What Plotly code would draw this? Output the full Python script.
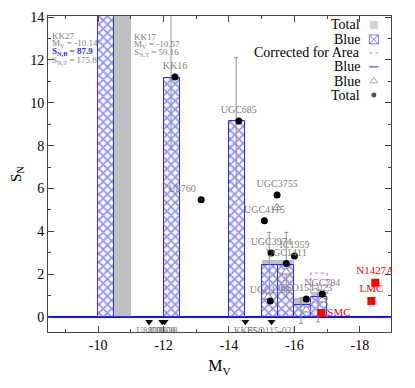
import plotly.graph_objects as go

# ---------------- data ----------------
bin_left = [-10.0, -10.5, -12.0, -14.0, -15.0, -15.5, -16.0, -16.5]
total_sn = [175.8, 59.16, 11.2, 9.15, 2.65, 2.65, 0.89, 1.17]
blue_sn = [87.9, 0.0, 11.15, 9.15, 2.43, 2.43, 0.56, 0.93]
area_bin = [-16.5]
area_sn = [2.05]
bin_width = 0.5

gal_names = ["KK16", "UGC685", "U8760", "UGC3755", "UGC4115", "UGC3974",
             "IC1959", "UGC1411", "UGC1281", "ESO154-023", "NGC784"]
gal_mv = [-12.35, -14.3, -13.15, -15.47, -15.08, -15.29, -16.0, -15.75, -15.26, -16.36, -16.85]
gal_sn = [11.2, 9.15, 5.47, 5.7, 4.49, 2.99, 2.85, 2.5, 0.75, 0.84, 1.07]
gal_textpos = ["top center", "top center", "top left", "top center", "top center", "top center",
               "top center", "top center", "top center", "top center", "top center"]

blue_mv = [-15.47, -15.75, -15.2, -16.36, -16.85]
blue_pt_sn = [5.1, 2.1, 0.93, 0.33, 0.8]

err_mv = [-12.23, -14.22, -15.23, -15.75, -16.2, -16.72]
err_lo = [7.8, 6.1, 1.0, 0.93, -0.3, -0.23]
err_hi = [16.0, 12.1, 3.95, 3.95, 0.9, 1.26]

lim_names = ["U8833", "U8508", "U8638", "KK65", "ESO115-021"]
lim_mv = [-11.56, -11.96, -12.03, -14.5, -15.3]
lim_sn = [-0.22, -0.22, -0.22, -0.22, -0.22]

ref_names = ["SMC", "LMC", "N1427A"]
ref_mv = [-16.82, -18.35, -18.47]
ref_sn = [0.19, 0.75, 1.6]
ref_textpos = ["middle right", "top center", "top center"]

x_ticks = [-10, -12, -14, -16, -18]
y_ticks = [0, 2, 4, 6, 8, 10, 12, 14]

SERIF = "Liberation Serif, Times New Roman, serif"
GRAY_TXT = "#808080"

fig = go.Figure()

centers = [b - bin_width / 2 for b in bin_left]

# Total bars (gray)
fig.add_trace(go.Bar(x=centers, y=total_sn, width=bin_width,
                     marker=dict(color="#c0c0c0", line=dict(width=0)),
                     showlegend=False, hoverinfo="skip"))
# Blue bars (hatched)
fig.add_trace(go.Bar(x=centers, y=blue_sn, width=bin_width,
                     marker=dict(color="white", line=dict(color="#2a2aff", width=1),
                                 pattern=dict(shape="x", fgcolor="#2020ff", bgcolor="white",
                                              size=6, solidity=0.5)),
                     showlegend=False, hoverinfo="skip"))

# Corrected for area outline (dotted)
for b, v in zip(area_bin, area_sn):
    fig.add_trace(go.Scatter(x=[b, b, b - bin_width, b - bin_width], y=[0, v, v, 0],
                             mode="lines", line=dict(color="#cc66cc", width=1, dash="dot"),
                             showlegend=False, hoverinfo="skip"))

# Error bars
mid = [(a + b) / 2 for a, b in zip(err_lo, err_hi)]
half = [(b - a) / 2 for a, b in zip(err_lo, err_hi)]
fig.add_trace(go.Scatter(x=err_mv, y=mid, mode="markers",
                         marker=dict(size=1, color="rgba(0,0,0,0)"),
                         error_y=dict(type="data", array=half, symmetric=True,
                                      color="#909090", thickness=1, width=2),
                         showlegend=False, hoverinfo="skip"))

# Blue triangles
fig.add_trace(go.Scatter(x=blue_mv, y=blue_pt_sn, mode="markers",
                         marker=dict(symbol="triangle-up", size=8, color="white",
                                     line=dict(color="#808080", width=1)),
                         showlegend=False, hoverinfo="skip"))

# Total points
fig.add_trace(go.Scatter(x=gal_mv, y=gal_sn, mode="markers+text", text=gal_names,
                         textposition=gal_textpos,
                         textfont=dict(family=SERIF, size=10, color=GRAY_TXT),
                         marker=dict(symbol="circle", size=7, color="black"),
                         showlegend=False, hoverinfo="skip"))

# Upper limits
fig.add_trace(go.Scatter(x=lim_mv, y=lim_sn, mode="markers+text", text=lim_names,
                         textposition="bottom center",
                         textfont=dict(family=SERIF, size=9.5, color=GRAY_TXT),
                         marker=dict(symbol="triangle-down", size=7, color="black"),
                         showlegend=False, hoverinfo="skip"))

# Reference galaxies
fig.add_trace(go.Scatter(x=ref_mv, y=ref_sn, mode="markers+text", text=ref_names,
                         textposition=ref_textpos,
                         textfont=dict(family=SERIF, size=11, color="red"),
                         marker=dict(symbol="square", size=8, color="red"),
                         showlegend=False, hoverinfo="skip"))

# ---- manual legend (symbols on right) ----
leg_labels = ["Total", "Blue", "Corrected for Area", "Blue", "Blue", "Total"]
leg_y = [0.972, 0.926, 0.883, 0.839, 0.794, 0.750]
leg_sym_x = 0.950
leg_txt_x = 0.915
for lab, yy in zip(leg_labels, leg_y):
    fig.add_annotation(x=leg_txt_x, y=yy, xref="paper", yref="paper", text=lab,
                       showarrow=False, xanchor="right", yanchor="middle",
                       font=dict(family=SERIF, size=14, color="black"))
fig.add_trace(go.Scatter(x=[leg_sym_x, leg_sym_x, leg_sym_x, leg_sym_x],
                         y=[leg_y[0], leg_y[1], leg_y[4], leg_y[5]],
                         xaxis="x2", yaxis="y2", mode="markers",
                         marker=dict(symbol=["square", "square-x-open", "triangle-up-open", "circle"],
                                     size=[9, 9, 7, 6],
                                     color=["#c0c0c0", "#3a3aff", "#808080", "black"],
                                     line=dict(width=1)),
                         showlegend=False, hoverinfo="skip"))
fig.add_shape(type="line", xref="paper", yref="paper", x0=leg_sym_x - 0.013, x1=leg_sym_x + 0.013,
              y0=leg_y[2], y1=leg_y[2], line=dict(color="#cc66cc", width=1, dash="dot"))
fig.add_shape(type="line", xref="paper", yref="paper", x0=leg_sym_x - 0.013, x1=leg_sym_x + 0.013,
              y0=leg_y[3], y1=leg_y[3], line=dict(color="#2a2aff", width=1))

# ---- KK27 / KK17 annotations ----
def txt(x, y, s, color=GRAY_TXT, size=9):
    fig.add_annotation(x=x, y=y, text=s, showarrow=False, xanchor="left", yanchor="middle",
                       font=dict(family=SERIF, size=size, color=color))

txt(-8.53, 13.12, "KK27")
txt(-8.53, 12.76, "M<sub>V</sub> = -10.14")
txt(-8.53, 12.37, "<b>S<sub>N,B</sub> = 87.9</b>", color="#2a2aff")
txt(-8.53, 11.98, "S<sub>N,T</sub> = 175.8")
txt(-11.04, 13.08, "KK17")
txt(-11.04, 12.72, "M<sub>V</sub> = -10.57")
txt(-11.04, 12.33, "S<sub>N,T</sub> = 59.16")

fig.update_layout(
    width=415, height=388,
    margin=dict(l=40, r=32, t=8, b=64),
    paper_bgcolor="white", plot_bgcolor="white",
    barmode="overlay", bargap=0,
    font=dict(family=SERIF, size=13, color="black"),
    xaxis=dict(range=[-8.47, -18.95], tickvals=x_ticks, ticktext=[str(v) for v in x_ticks],
               ticks="inside", ticklen=6, tickcolor="#444", showline=True, linecolor="#444",
               linewidth=1, mirror="ticks", showgrid=False, zeroline=False, automargin=False,
               minor=dict(dtick=1, tick0=0, ticks="inside", ticklen=3, tickcolor="#444"),
               title=dict(text="M<sub>V</sub>", font=dict(size=16), standoff=8),
               tickfont=dict(size=14)),
    yaxis=dict(range=[-0.7, 14.05], tickvals=y_ticks, ticks="inside", ticklen=6, tickcolor="#444",
               showline=True, linecolor="#444", linewidth=1, mirror="ticks", showgrid=False,
               zeroline=True, zerolinecolor="#1010ff", zerolinewidth=1.5, automargin=False,
               minor=dict(dtick=1, tick0=0, ticks="inside", ticklen=3, tickcolor="#444"),
               title=dict(text="S<sub>N</sub>", font=dict(size=15), standoff=12),
               tickfont=dict(size=14)),
    xaxis2=dict(range=[0, 1], overlaying="x", visible=False, fixedrange=True),
    yaxis2=dict(range=[0, 1], overlaying="y", visible=False, fixedrange=True),
)

fig.write_html("out.html")
